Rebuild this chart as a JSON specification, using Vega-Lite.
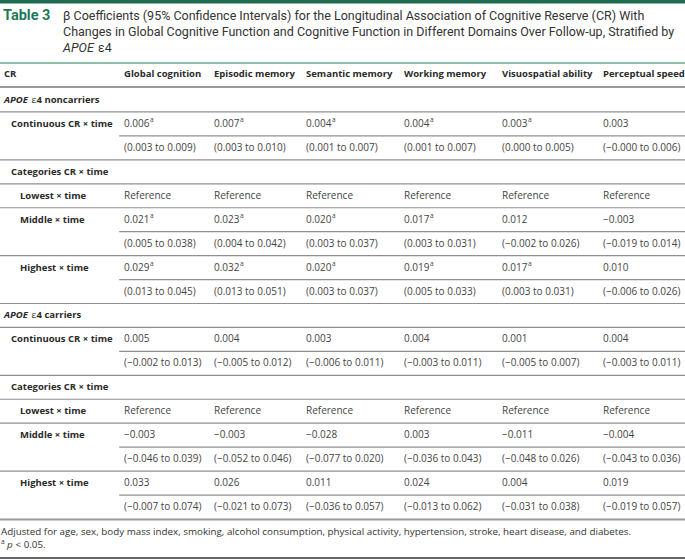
{
  "$schema": "https://vega.github.io/schema/vega-lite/v6.json",
  "autosize": {"type": "none"},
  "padding": 0,
  "width": 685,
  "height": 560,
  "background": "white",
  "config": {"view": {"stroke": null}, "text": {"font": "Open Sans", "baseline": "middle", "align": "left"}},
  "datasets": {
    "rules": [
      {"row": -6, "kind": "bar"},
      {"row": -2, "kind": "top"},
      {"row": 0.5, "kind": "head"},
      {"row": 1.5, "kind": "full"},
      {"row": 2.5, "kind": "partial"},
      {"row": 3.5, "kind": "full"},
      {"row": 4.5, "kind": "full"},
      {"row": 5.5, "kind": "full"},
      {"row": 6.5, "kind": "partial"},
      {"row": 7.5, "kind": "full"},
      {"row": 8.5, "kind": "partial"},
      {"row": 9.5, "kind": "full"},
      {"row": 10.5, "kind": "full"},
      {"row": 11.5, "kind": "partial"},
      {"row": 12.5, "kind": "full"},
      {"row": 13.5, "kind": "full"},
      {"row": 14.5, "kind": "full"},
      {"row": 15.5, "kind": "partial"},
      {"row": 16.5, "kind": "full"},
      {"row": 17.5, "kind": "partial"},
      {"row": 18.5, "kind": "end"},
      {"row": 21, "kind": "bottom"}
    ],
    "title": [
      {"row": -5, "part": "label", "text": "Table 3"},
      {"row": -5, "part": "text", "text": "β Coefficients (95% Confidence Intervals) for the Longitudinal Association of Cognitive Reserve (CR) With"},
      {"row": -4, "part": "text", "text": "Changes in Global Cognitive Function and Cognitive Function in Different Domains Over Follow-up, Stratified by"},
      {"row": -3, "part": "italic", "text": "APOE"},
      {"row": -3, "part": "after", "text": "ε4"}
    ],
    "header": [
      {"row": 0, "col": 0, "text": "CR"},
      {"row": 0, "col": 1, "text": "Global cognition"},
      {"row": 0, "col": 2, "text": "Episodic memory"},
      {"row": 0, "col": 3, "text": "Semantic memory"},
      {"row": 0, "col": 4, "text": "Working memory"},
      {"row": 0, "col": 5, "text": "Visuospatial ability"},
      {"row": 0, "col": 6, "text": "Perceptual speed"}
    ],
    "sections": [
      {"row": 1, "col": 0, "gene": "APOE", "allele": "ε", "rest": "4 noncarriers"},
      {"row": 10, "col": 0, "gene": "APOE", "allele": "ε", "rest": "4 carriers"}
    ],
    "labels": [
      {"row": 2, "col": 0, "level": 1, "text": "Continuous CR × time"},
      {"row": 4, "col": 0, "level": 1, "text": "Categories CR × time"},
      {"row": 5, "col": 0, "level": 2, "text": "Lowest × time"},
      {"row": 6, "col": 0, "level": 2, "text": "Middle × time"},
      {"row": 8, "col": 0, "level": 2, "text": "Highest × time"},
      {"row": 11, "col": 0, "level": 1, "text": "Continuous CR × time"},
      {"row": 13, "col": 0, "level": 1, "text": "Categories CR × time"},
      {"row": 14, "col": 0, "level": 2, "text": "Lowest × time"},
      {"row": 15, "col": 0, "level": 2, "text": "Middle × time"},
      {"row": 17, "col": 0, "level": 2, "text": "Highest × time"}
    ],
    "cells": [
      {"row": 2, "col": 1, "text": "0.006", "sig": true},
      {"row": 2, "col": 2, "text": "0.007", "sig": true},
      {"row": 2, "col": 3, "text": "0.004", "sig": true},
      {"row": 2, "col": 4, "text": "0.004", "sig": true},
      {"row": 2, "col": 5, "text": "0.003", "sig": true},
      {"row": 2, "col": 6, "text": "0.003", "sig": false},
      {"row": 3, "col": 1, "text": "(0.003 to 0.009)", "sig": false},
      {"row": 3, "col": 2, "text": "(0.003 to 0.010)", "sig": false},
      {"row": 3, "col": 3, "text": "(0.001 to 0.007)", "sig": false},
      {"row": 3, "col": 4, "text": "(0.001 to 0.007)", "sig": false},
      {"row": 3, "col": 5, "text": "(0.000 to 0.005)", "sig": false},
      {"row": 3, "col": 6, "text": "(−0.000 to 0.006)", "sig": false},
      {"row": 5, "col": 1, "text": "Reference", "sig": false},
      {"row": 5, "col": 2, "text": "Reference", "sig": false},
      {"row": 5, "col": 3, "text": "Reference", "sig": false},
      {"row": 5, "col": 4, "text": "Reference", "sig": false},
      {"row": 5, "col": 5, "text": "Reference", "sig": false},
      {"row": 5, "col": 6, "text": "Reference", "sig": false},
      {"row": 6, "col": 1, "text": "0.021", "sig": true},
      {"row": 6, "col": 2, "text": "0.023", "sig": true},
      {"row": 6, "col": 3, "text": "0.020", "sig": true},
      {"row": 6, "col": 4, "text": "0.017", "sig": true},
      {"row": 6, "col": 5, "text": "0.012", "sig": false},
      {"row": 6, "col": 6, "text": "−0.003", "sig": false},
      {"row": 7, "col": 1, "text": "(0.005 to 0.038)", "sig": false},
      {"row": 7, "col": 2, "text": "(0.004 to 0.042)", "sig": false},
      {"row": 7, "col": 3, "text": "(0.003 to 0.037)", "sig": false},
      {"row": 7, "col": 4, "text": "(0.003 to 0.031)", "sig": false},
      {"row": 7, "col": 5, "text": "(−0.002 to 0.026)", "sig": false},
      {"row": 7, "col": 6, "text": "(−0.019 to 0.014)", "sig": false},
      {"row": 8, "col": 1, "text": "0.029", "sig": true},
      {"row": 8, "col": 2, "text": "0.032", "sig": true},
      {"row": 8, "col": 3, "text": "0.020", "sig": true},
      {"row": 8, "col": 4, "text": "0.019", "sig": true},
      {"row": 8, "col": 5, "text": "0.017", "sig": true},
      {"row": 8, "col": 6, "text": "0.010", "sig": false},
      {"row": 9, "col": 1, "text": "(0.013 to 0.045)", "sig": false},
      {"row": 9, "col": 2, "text": "(0.013 to 0.051)", "sig": false},
      {"row": 9, "col": 3, "text": "(0.003 to 0.037)", "sig": false},
      {"row": 9, "col": 4, "text": "(0.005 to 0.033)", "sig": false},
      {"row": 9, "col": 5, "text": "(0.003 to 0.031)", "sig": false},
      {"row": 9, "col": 6, "text": "(−0.006 to 0.026)", "sig": false},
      {"row": 11, "col": 1, "text": "0.005", "sig": false},
      {"row": 11, "col": 2, "text": "0.004", "sig": false},
      {"row": 11, "col": 3, "text": "0.003", "sig": false},
      {"row": 11, "col": 4, "text": "0.004", "sig": false},
      {"row": 11, "col": 5, "text": "0.001", "sig": false},
      {"row": 11, "col": 6, "text": "0.004", "sig": false},
      {"row": 12, "col": 1, "text": "(−0.002 to 0.013)", "sig": false},
      {"row": 12, "col": 2, "text": "(−0.005 to 0.012)", "sig": false},
      {"row": 12, "col": 3, "text": "(−0.006 to 0.011)", "sig": false},
      {"row": 12, "col": 4, "text": "(−0.003 to 0.011)", "sig": false},
      {"row": 12, "col": 5, "text": "(−0.005 to 0.007)", "sig": false},
      {"row": 12, "col": 6, "text": "(−0.003 to 0.011)", "sig": false},
      {"row": 14, "col": 1, "text": "Reference", "sig": false},
      {"row": 14, "col": 2, "text": "Reference", "sig": false},
      {"row": 14, "col": 3, "text": "Reference", "sig": false},
      {"row": 14, "col": 4, "text": "Reference", "sig": false},
      {"row": 14, "col": 5, "text": "Reference", "sig": false},
      {"row": 14, "col": 6, "text": "Reference", "sig": false},
      {"row": 15, "col": 1, "text": "−0.003", "sig": false},
      {"row": 15, "col": 2, "text": "−0.003", "sig": false},
      {"row": 15, "col": 3, "text": "−0.028", "sig": false},
      {"row": 15, "col": 4, "text": "0.003", "sig": false},
      {"row": 15, "col": 5, "text": "−0.011", "sig": false},
      {"row": 15, "col": 6, "text": "−0.004", "sig": false},
      {"row": 16, "col": 1, "text": "(−0.046 to 0.039)", "sig": false},
      {"row": 16, "col": 2, "text": "(−0.052 to 0.046)", "sig": false},
      {"row": 16, "col": 3, "text": "(−0.077 to 0.020)", "sig": false},
      {"row": 16, "col": 4, "text": "(−0.036 to 0.043)", "sig": false},
      {"row": 16, "col": 5, "text": "(−0.048 to 0.026)", "sig": false},
      {"row": 16, "col": 6, "text": "(−0.043 to 0.036)", "sig": false},
      {"row": 17, "col": 1, "text": "0.033", "sig": false},
      {"row": 17, "col": 2, "text": "0.026", "sig": false},
      {"row": 17, "col": 3, "text": "0.011", "sig": false},
      {"row": 17, "col": 4, "text": "0.024", "sig": false},
      {"row": 17, "col": 5, "text": "0.004", "sig": false},
      {"row": 17, "col": 6, "text": "0.019", "sig": false},
      {"row": 18, "col": 1, "text": "(−0.007 to 0.074)", "sig": false},
      {"row": 18, "col": 2, "text": "(−0.021 to 0.073)", "sig": false},
      {"row": 18, "col": 3, "text": "(−0.036 to 0.057)", "sig": false},
      {"row": 18, "col": 4, "text": "(−0.013 to 0.062)", "sig": false},
      {"row": 18, "col": 5, "text": "(−0.031 to 0.038)", "sig": false},
      {"row": 18, "col": 6, "text": "(−0.019 to 0.057)", "sig": false}
    ],
    "notes": [
      {"row": 19, "part": "text", "text": "Adjusted for age, sex, body mass index, smoking, alcohol consumption, physical activity, hypertension, stroke, heart disease, and diabetes."},
      {"row": 20, "part": "sup", "text": "a"},
      {"row": 20, "part": "p", "text": "p"},
      {"row": 20, "part": "rest", "text": "< 0.05."}
    ]
  },
  "encoding": {
    "y": {"field": "row", "type": "quantitative", "axis": null,
      "scale": {"type": "linear", "domain": [-6, -5, -3, -2, 0, 1, 18, 19, 20, 21], "range": [1.5, 16, 48, 63, 74, 100, 507, 532, 545, 558], "nice": false, "zero": false}}
  },
  "layer": [
    {"data": {"name": "rules"}, "transform": [{"filter": "datum.kind === 'full'"}],
      "mark": {"type": "rule", "stroke": "#8f8f8f", "strokeWidth": 1.2},
      "encoding": {"x": {"datum": -1, "type": "quantitative", "axis": null, "scale": {"type": "linear", "domain": [-1, 0, 1, 2, 3, 4, 5, 6, 7], "range": [0, 4, 124, 214, 306, 404, 502, 603, 685], "nice": false, "zero": false}}, "x2": {"datum": 7}}},
    {"data": {"name": "rules"}, "transform": [{"filter": "datum.kind === 'partial'"}],
      "mark": {"type": "rule", "stroke": "#8f8f8f", "strokeWidth": 1.2},
      "encoding": {"x": {"datum": 0.96, "type": "quantitative", "axis": null}, "x2": {"datum": 7}}},
    {"data": {"name": "rules"}, "transform": [{"filter": "datum.kind === 'head' || datum.kind === 'end'"}],
      "mark": {"type": "rule", "stroke": "#9a9a9a", "strokeWidth": 2},
      "encoding": {"x": {"datum": -1, "type": "quantitative", "axis": null}, "x2": {"datum": 7}}},
    {"data": {"name": "rules"}, "transform": [{"filter": "datum.kind === 'top'"}],
      "mark": {"type": "rule", "stroke": "#8dbfab", "strokeWidth": 2},
      "encoding": {"x": {"datum": -1, "type": "quantitative", "axis": null}, "x2": {"datum": 7}}},
    {"data": {"name": "rules"}, "transform": [{"filter": "datum.kind === 'bottom'"}],
      "mark": {"type": "rule", "stroke": "#333333", "strokeWidth": 1.5},
      "encoding": {"x": {"datum": -1, "type": "quantitative", "axis": null}, "x2": {"datum": 7}}},
    {"data": {"name": "rules"}, "transform": [{"filter": "datum.kind === 'bar'"}],
      "mark": {"type": "rule", "stroke": "#1f6b4f", "strokeWidth": 4},
      "encoding": {"x": {"datum": -1, "type": "quantitative", "axis": null}, "x2": {"datum": 7}}},
    {"data": {"name": "title"}, "transform": [{"filter": "datum.part === 'label'"}],
      "mark": {"type": "text", "font": "Roboto", "fontSize": 14.5, "fontWeight": "bold", "color": "#1d7a57", "dx": 3},
      "encoding": {"x": {"datum": -1, "type": "quantitative", "axis": null}, "text": {"field": "text"}}},
    {"data": {"name": "title"}, "transform": [{"filter": "datum.part === 'text'"}],
      "mark": {"type": "text", "font": "Roboto", "fontSize": 12.5, "color": "#333333", "dx": 63},
      "encoding": {"x": {"datum": -1, "type": "quantitative", "axis": null}, "text": {"field": "text"}}},
    {"data": {"name": "title"}, "transform": [{"filter": "datum.part === 'italic'"}],
      "mark": {"type": "text", "font": "Roboto", "fontSize": 12.5, "fontStyle": "italic", "color": "#333333", "dx": 63},
      "encoding": {"x": {"datum": -1, "type": "quantitative", "axis": null}, "text": {"field": "text"}}},
    {"data": {"name": "title"}, "transform": [{"filter": "datum.part === 'after'"}],
      "mark": {"type": "text", "font": "Roboto", "fontSize": 12.5, "color": "#333333", "dx": 98},
      "encoding": {"x": {"datum": -1, "type": "quantitative", "axis": null}, "text": {"field": "text"}}},
    {"data": {"name": "header"},
      "mark": {"type": "text", "fontSize": 9.5, "fontWeight": "bold", "color": "#2a2a2a"},
      "encoding": {"x": {"field": "col", "type": "quantitative", "axis": null}, "text": {"field": "text"}}},
    {"data": {"name": "sections"},
      "mark": {"type": "text", "fontSize": 9.5, "fontWeight": "bold", "fontStyle": "italic", "color": "#2a2a2a"},
      "encoding": {"x": {"field": "col", "type": "quantitative", "axis": null}, "text": {"field": "gene"}}},
    {"data": {"name": "sections"},
      "mark": {"type": "text", "fontSize": 9.5, "color": "#2a2a2a", "dx": 27.5},
      "encoding": {"x": {"field": "col", "type": "quantitative", "axis": null}, "text": {"field": "allele"}}},
    {"data": {"name": "sections"},
      "mark": {"type": "text", "fontSize": 9.5, "fontWeight": "bold", "color": "#2a2a2a", "dx": 32.5},
      "encoding": {"x": {"field": "col", "type": "quantitative", "axis": null}, "text": {"field": "rest"}}},
    {"data": {"name": "labels"}, "transform": [{"filter": "datum.level === 1"}],
      "mark": {"type": "text", "fontSize": 9.5, "fontWeight": "bold", "color": "#2a2a2a", "dx": 7},
      "encoding": {"x": {"field": "col", "type": "quantitative", "axis": null}, "text": {"field": "text"}}},
    {"data": {"name": "labels"}, "transform": [{"filter": "datum.level === 2"}],
      "mark": {"type": "text", "fontSize": 9.5, "fontWeight": "bold", "color": "#2a2a2a", "dx": 16},
      "encoding": {"x": {"field": "col", "type": "quantitative", "axis": null}, "text": {"field": "text"}}},
    {"data": {"name": "cells"},
      "mark": {"type": "text", "fontSize": 10, "color": "#444444"},
      "encoding": {"x": {"field": "col", "type": "quantitative", "axis": null}, "text": {"field": "text"}}},
    {"data": {"name": "cells"}, "transform": [{"filter": "datum.sig"}],
      "mark": {"type": "text", "fontSize": 6.5, "color": "#444444", "dx": 26, "dy": -4},
      "encoding": {"x": {"field": "col", "type": "quantitative", "axis": null}, "text": {"value": "a"}}},
    {"data": {"name": "notes"}, "transform": [{"filter": "datum.part === 'text'"}],
      "mark": {"type": "text", "fontSize": 9.8, "color": "#333333", "dx": 1},
      "encoding": {"x": {"datum": -1, "type": "quantitative", "axis": null}, "text": {"field": "text"}}},
    {"data": {"name": "notes"}, "transform": [{"filter": "datum.part === 'sup'"}],
      "mark": {"type": "text", "fontSize": 6.5, "color": "#333333", "dx": 1, "dy": -3},
      "encoding": {"x": {"datum": -1, "type": "quantitative", "axis": null}, "text": {"field": "text"}}},
    {"data": {"name": "notes"}, "transform": [{"filter": "datum.part === 'p'"}],
      "mark": {"type": "text", "fontSize": 9.8, "fontStyle": "italic", "color": "#333333", "dx": 7},
      "encoding": {"x": {"datum": -1, "type": "quantitative", "axis": null}, "text": {"field": "text"}}},
    {"data": {"name": "notes"}, "transform": [{"filter": "datum.part === 'rest'"}],
      "mark": {"type": "text", "fontSize": 9.8, "color": "#333333", "dx": 15.5},
      "encoding": {"x": {"datum": -1, "type": "quantitative", "axis": null}, "text": {"field": "text"}}}
  ]
}
